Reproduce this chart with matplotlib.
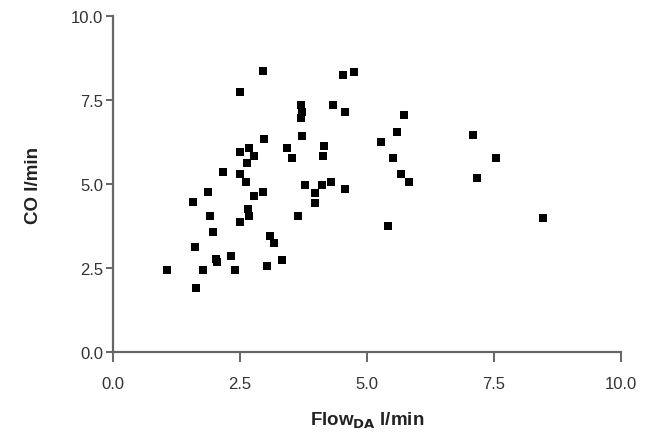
import matplotlib
matplotlib.use("Agg")
import matplotlib.pyplot as plt
import numpy as np

plt.rcParams['font.family'] = ['Liberation Sans', 'DejaVu Sans']

flow_da = [2.95, 2.50, 2.98, 2.50, 2.68, 2.78, 2.63, 2.16, 2.50, 4.53,
           4.74, 3.70, 3.72, 3.70, 4.34, 4.57, 5.72, 5.60, 5.28, 5.51,
           5.66, 3.73, 3.42, 3.52, 4.15, 4.14, 2.62, 1.87, 1.58, 2.78,
           2.96, 2.66, 2.68, 2.50, 1.90, 1.96, 1.61, 3.09, 3.17, 2.32,
           2.02, 2.04, 1.07, 1.77, 2.40, 3.03, 1.63, 3.33, 3.78, 4.11,
           4.29, 3.98, 3.98, 4.57, 3.65, 5.41, 5.83, 7.08, 7.53, 7.16,
           8.47]
co = [8.35, 7.75, 6.35, 5.96, 6.06, 5.84, 5.63, 5.37, 5.30, 8.25,
      8.34, 7.34, 7.14, 6.96, 7.35, 7.15, 7.05, 6.56, 6.26, 5.76,
      5.30, 6.44, 6.06, 5.76, 6.14, 5.84, 5.05, 4.75, 4.45, 4.65,
      4.75, 4.26, 4.06, 3.86, 4.06, 3.56, 3.13, 3.46, 3.24, 2.85,
      2.77, 2.67, 2.45, 2.45, 2.45, 2.55, 1.90, 2.75, 4.97, 4.97,
      5.05, 4.73, 4.43, 4.85, 4.06, 3.74, 5.05, 6.46, 5.76, 5.17,
      3.98]
ticks = [0.0, 2.5, 5.0, 7.5, 10.0]
tick_labels = ["0.0", "2.5", "5.0", "7.5", "10.0"]

fig = plt.figure(figsize=(6.45, 4.39), dpi=100)
ax = fig.add_axes([113/645, 86/439, 508/645, 336/439])

ax.plot(flow_da, co, linestyle='none', marker='s', markersize=5.5,
        color='black', markeredgewidth=0)

ax.set_xlim(0, 10)
ax.set_ylim(0, 10)
ax.set_xticks(ticks)
ax.set_xticklabels(tick_labels)
ax.set_yticks(ticks)
ax.set_yticklabels(tick_labels)

for s in ['top', 'right']:
    ax.spines[s].set_visible(False)
for s in ['left', 'bottom']:
    ax.spines[s].set_color('#666666')
    ax.spines[s].set_linewidth(1.6)
ax.tick_params(axis='both', direction='out', length=5, width=1.4,
               color='#666666', labelsize=12, labelcolor='#333333')
ax.tick_params(axis='x', pad=10, length=7)
ax.tick_params(axis='y', pad=2)

ax.set_xlabel("Flow$_{\\mathbf{DA}}$ l/min", fontsize=13.5, fontweight='bold',
              color='#222222', labelpad=14)
ax.set_ylabel("CO l/min", fontsize=13.5, fontweight='bold',
              color='#222222', labelpad=21)

fig.savefig("out.png", dpi=100)
